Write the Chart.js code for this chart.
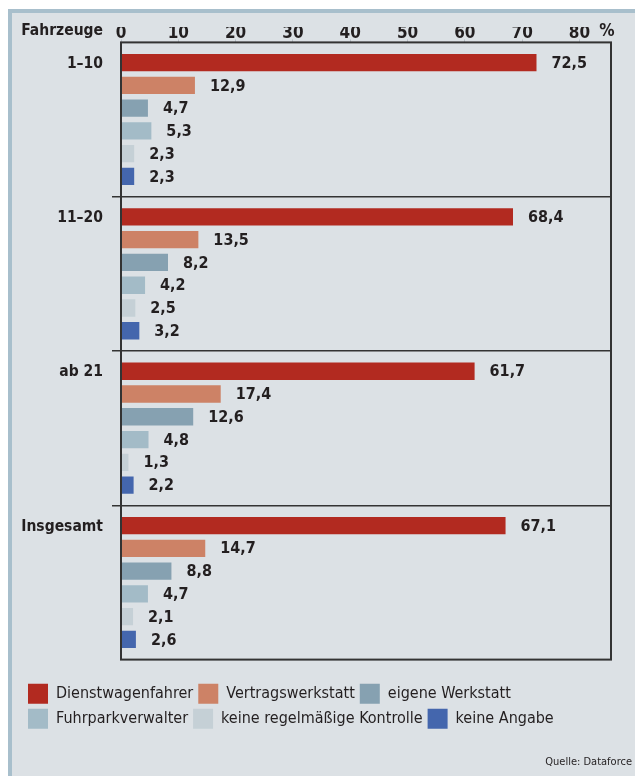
<!DOCTYPE html>
<html>
<head>
<meta charset="utf-8">
<script src="https://cdn.jsdelivr.net/npm/chart.js@4.4.1/dist/chart.umd.min.js"></script>
<style>
  html, body { margin: 0; padding: 0; background: #fff; }
  #page { position: relative; width: 635px; height: 776px; overflow: hidden; }
  #panel {
    position: absolute; left: 8px; top: 9px; right: 0; bottom: 0;
    background: #dce1e5;
    border-top: 4px solid #a8bfcc;
    border-left: 4px solid #a8bfcc;
  }
  #wrap { position: absolute; left: 0; top: 0; width: 635px; height: 776px; }
</style>
</head>
<body>
<div id="page">
  <div id="panel"></div>
  <div id="wrap"><canvas id="myChart"></canvas></div>
</div>
<script>
const FONT = "'Liberation Sans Narrow', 'DejaVu Sans Condensed', 'Liberation Sans', sans-serif";

const groups = ['1–10', '11–20', 'ab 21', 'Insgesamt'];
const seriesNames = [
  'Dienstwagenfahrer',
  'Vertragswerkstatt',
  'eigene Werkstatt',
  'Fuhrparkverwalter',
  'keine regelmäßige Kontrolle',
  'keine Angabe'
];
const seriesColors = ['#b22a20', '#cd8266', '#86a1b1', '#a3bbc7', '#c5d0d6', '#4466ad'];

// Werte je Serie, Reihenfolge wie groups
const dienstwagenfahrer = [72.5, 68.4, 61.7, 67.1];
const vertragswerkstatt = [12.9, 13.5, 17.4, 14.7];
const eigeneWerkstatt = [4.7, 8.2, 12.6, 8.8];
const fuhrparkverwalter = [5.3, 4.2, 4.8, 4.7];
const keineKontrolle = [2.3, 2.5, 1.3, 2.1];
const keineAngabe = [2.3, 3.2, 2.2, 2.6];

const xTicks = [0, 10, 20, 30, 40, 50, 60, 70, 80];
const source = 'Quelle: Dataforce';

const seriesValues = [dienstwagenfahrer, vertragswerkstatt, eigeneWerkstatt,
  fuhrparkverwalter, keineKontrolle, keineAngabe];

const data = {
  labels: groups,
  datasets: seriesNames.map((name, i) => ({
    label: name,
    data: seriesValues[i],
    backgroundColor: seriesColors[i],
    borderWidth: 0,
    categoryPercentage: 0.885,
    barPercentage: 0.76
  }))
};

// Beschriftungen, Rahmen, Kopfzeile
const extras = {
  id: 'extras',
  afterDatasetsDraw(chart) {
    const ctx = chart.ctx;
    const area = chart.chartArea;
    ctx.save();
    ctx.fillStyle = '#231f20';
    ctx.textBaseline = 'middle';
    ctx.font = 'bold 16px ' + FONT;
    ctx.textAlign = 'left';
    chart.data.datasets.forEach((ds, i) => {
      chart.getDatasetMeta(i).data.forEach((bar, j) => {
        ctx.fillText(ds.data[j].toFixed(1).replace('.', ','), bar.x + 15, bar.y + 1);
      });
    });
    // Gruppennamen auf Höhe des ersten Balkens
    ctx.textAlign = 'right';
    ctx.font = 'bold 15.5px ' + FONT;
    chart.getDatasetMeta(0).data.forEach((bar, j) => {
      ctx.fillText(groups[j], area.left - 18, bar.y + 1);
    });
    const labelY = area.top - 11;
    ctx.fillText('Fahrzeuge', area.left - 18, labelY);
    ctx.textAlign = 'center';
    ctx.font = 'bold 17px ' + FONT;
    ctx.fillText('%', area.right - 4, labelY);
    // Rahmen
    ctx.strokeStyle = '#333';
    ctx.lineWidth = 2;
    ctx.strokeRect(area.left, area.top, area.right - area.left, area.bottom - area.top);
    // Quelle
    ctx.textAlign = 'right';
    ctx.font = '11px ' + FONT;
    ctx.fillText(source, chart.width - 3, chart.titleBlock.top + chart.titleBlock.height - 8);
    ctx.restore();
  }
};

const config = {
  type: 'bar',
  data: data,
  options: {
    indexAxis: 'y',
    responsive: false,
    animation: false,
    maintainAspectRatio: false,
    layout: { padding: { left: 23, right: 24, top: 27, bottom: 6 } },
    scales: {
      x: {
        position: 'top',
        min: 0,
        max: 85.5,
        afterBuildTicks: (scale) => { scale.ticks = xTicks.map(v => ({ value: v })); },
        ticks: {
          color: '#231f20',
          font: { family: FONT, size: 17, weight: 'bold' },
          padding: -4,
          maxRotation: 0
        },
        grid: { drawOnChartArea: false, tickLength: 3, color: '#b9c0c6' },
        border: { display: false }
      },
      y: {
        afterFit: (scale) => { scale.width = 98; },
        ticks: { display: false },
        grid: {
          offset: true,
          tickLength: 9,
          lineWidth: 1.5,
          // nur die Trennlinien zwischen den Gruppen
          color: (c) => (c.type !== 'tick' || c.index === 0) ? 'rgba(0,0,0,0)' : '#333'
        },
        border: { display: false }
      }
    },
    plugins: {
      legend: {
        position: 'bottom',
        align: 'start',
        title: {
          display: true,
          text: '',
          font: { size: 1 },
          padding: { top: 18, bottom: 0 }
        },
        labels: {
          color: '#231f20',
          boxWidth: 20,
          boxHeight: 20,
          padding: 5,
          font: { family: FONT, size: 16 }
        }
      },
      title: {
        display: true,
        position: 'bottom',
        align: 'end',
        text: source,
        color: 'rgba(0,0,0,0)',
        font: { family: FONT, size: 11, weight: 'normal' },
        padding: { top: 18, bottom: 0 }
      },
      tooltip: { enabled: false }
    }
  },
  plugins: [extras]
};

const canvas = document.getElementById('myChart');
canvas.width = 635;
canvas.height = 776;
let myChart = new Chart(canvas, config);
</script>
</body>
</html>
